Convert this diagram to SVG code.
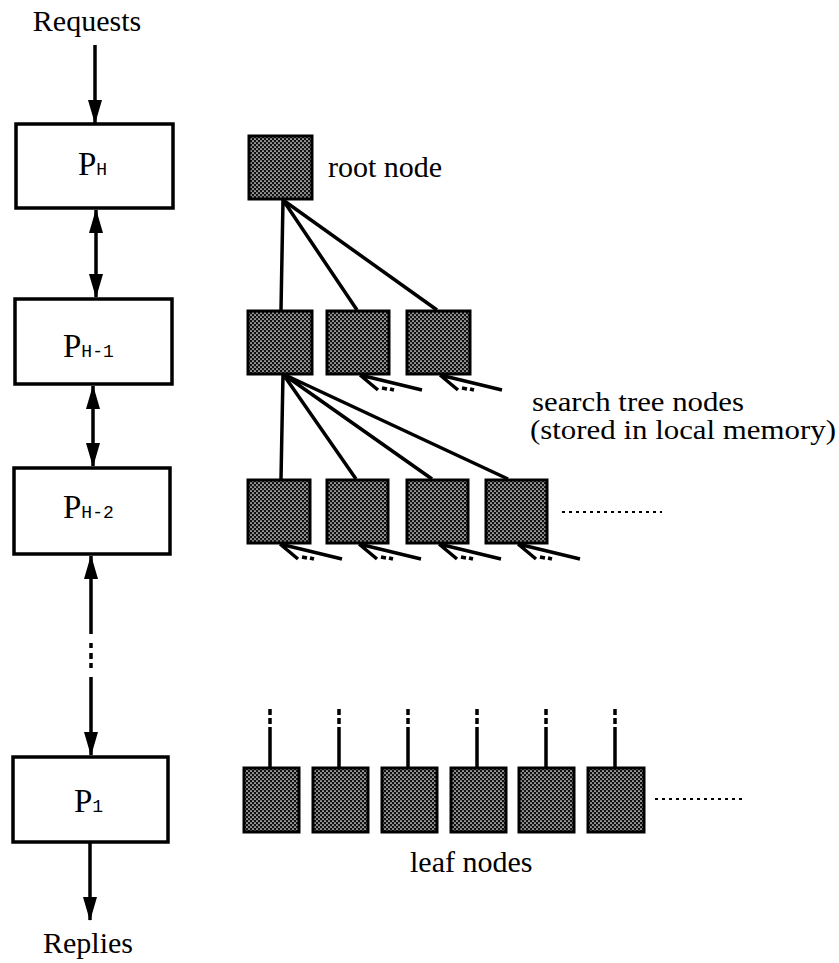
<svg xmlns="http://www.w3.org/2000/svg" xmlns:xlink="http://www.w3.org/1999/xlink" width="839" height="963" viewBox="0 0 839 963">
<style>
.lbl{font-family:"Liberation Serif","Times New Roman",serif;font-size:30px;fill:#000}
.lbl2{font-family:"Liberation Serif","Times New Roman",serif;font-size:27px;fill:#000}
.p{font-family:"Liberation Serif","Times New Roman",serif;font-size:33px;fill:#000}
.sub{font-family:"Liberation Mono","Courier New",monospace;font-size:18px;fill:#000}
.box{fill:#fff;stroke:#000;stroke-width:3.5}
.tn{fill:url(#dots);stroke:#000;stroke-width:3}
.edge{stroke:#000;stroke-width:3.5;fill:none}
.arr{stroke:#000;stroke-width:3.5;fill:none}
.dash{stroke:#000;stroke-width:2;fill:none;stroke-dasharray:3 4}
</style>
<defs>
<pattern id="dots" width="4" height="4" patternUnits="userSpaceOnUse">
<rect width="4" height="4" fill="#111"/>
<circle cx="1" cy="1" r="0.85" fill="#fff"/>
<circle cx="3" cy="3" r="0.85" fill="#fff"/>
</pattern>
<marker id="ah" markerUnits="userSpaceOnUse" markerWidth="24" markerHeight="16" viewBox="0 0 24 16" refX="23" refY="8" orient="auto-start-reverse">
<path d="M0,1 L24,8 L0,15 z" fill="#000"/>
</marker>
<g id="stub">
<path d="M0,0 L18,15 M0,0 L62,15" stroke="#000" stroke-width="3.5" fill="none"/>
<path d="M22,13 L27,14 M30,14 L34,15" stroke="#000" stroke-width="3.5" fill="none"/>
</g>
<g id="leafstub">
<path d="M0,0 L0,6 M0,9 L0,15 M0,18 L0,58" stroke="#000" stroke-width="3.5" fill="none"/>
</g>
</defs>
<rect width="839" height="963" fill="#fff"/>

<g id="connectors">
<line class="arr" x1="95" y1="45" x2="95" y2="123" marker-end="url(#ah)"/>
<line class="arr" x1="96" y1="210" x2="96" y2="297" marker-start="url(#ah)" marker-end="url(#ah)"/>
<line class="arr" x1="93" y1="386" x2="93" y2="466" marker-start="url(#ah)" marker-end="url(#ah)"/>
<path class="arr" d="M91,556 L91,634 M91,643 L91,648 M91,653 L91,659 M91,663 L91,668 M91,677 L91,755"/>
<line x1="91" y1="556" x2="91" y2="600" stroke="none" marker-start="url(#ah)"/>
<line x1="91" y1="700" x2="91" y2="755" stroke="none" marker-end="url(#ah)"/>
<line class="arr" x1="90" y1="843" x2="90" y2="920" marker-end="url(#ah)"/>
<path class="edge" d="M283,200 L281,310 M283,200 L357,310 M283,200 L437,310"/>
<path class="edge" d="M283,374 L281,479 M283,374 L356,479 M283,374 L432,479 M283,374 L508,479"/>
<use xlink:href="#stub" x="360" y="375"/>
<use xlink:href="#stub" x="440" y="375"/>
<use xlink:href="#stub" x="280" y="544"/>
<use xlink:href="#stub" x="359" y="544"/>
<use xlink:href="#stub" x="439" y="544"/>
<use xlink:href="#stub" x="518" y="544"/>
<use xlink:href="#leafstub" x="270" y="709"/>
<use xlink:href="#leafstub" x="339" y="709"/>
<use xlink:href="#leafstub" x="408" y="709"/>
<use xlink:href="#leafstub" x="477" y="709"/>
<use xlink:href="#leafstub" x="546" y="709"/>
<use xlink:href="#leafstub" x="615" y="709"/>
<line class="dash" x1="562" y1="512" x2="662" y2="512"/>
<line class="dash" x1="655" y1="799" x2="745" y2="799"/>
</g>

<text class="lbl" x="87" y="31" text-anchor="middle">Requests</text>
<text class="lbl" x="88" y="953" text-anchor="middle">Replies</text>

<g id="PH"><rect class="box" x="16" y="124" width="157" height="84"/>
<text x="78" y="175"><tspan class="p">P</tspan><tspan class="sub">H</tspan></text></g>
<g id="PH-1"><rect class="box" x="15" y="299" width="157" height="85"/>
<text x="63" y="357"><tspan class="p">P</tspan><tspan class="sub">H-1</tspan></text></g>
<g id="PH-2"><rect class="box" x="14" y="468" width="156" height="86"/>
<text x="63" y="518"><tspan class="p">P</tspan><tspan class="sub">H-2</tspan></text></g>
<g id="P1"><rect class="box" x="13" y="757" width="155" height="85"/>
<text x="74" y="812"><tspan class="p">P</tspan><tspan class="sub">1</tspan></text></g>

<g id="root"><rect class="tn" x="249" y="136" width="63" height="63"/>
<text class="lbl" x="328" y="177">root node</text></g>

<g id="l2a"><rect class="tn" x="248" y="311" width="64" height="63"/></g>
<g id="l2b"><rect class="tn" x="327" y="311" width="62" height="63"/></g>
<g id="l2c"><rect class="tn" x="407" y="311" width="63" height="63"/></g>

<g id="l3a"><rect class="tn" x="248" y="480" width="62" height="63"/></g>
<g id="l3b"><rect class="tn" x="327" y="480" width="61" height="63"/></g>
<g id="l3c"><rect class="tn" x="407" y="480" width="61" height="63"/></g>
<g id="l3d"><rect class="tn" x="486" y="480" width="61" height="63"/></g>

<g id="search-label">
<text class="lbl2" x="532" y="411" textLength="212" lengthAdjust="spacingAndGlyphs">search tree nodes</text>
<text class="lbl2" x="530" y="439" textLength="306" lengthAdjust="spacingAndGlyphs">(stored in local memory)</text>
</g>

<g id="leaf1"><rect class="tn" x="244" y="768" width="55" height="64"/></g>
<g id="leaf2"><rect class="tn" x="313" y="768" width="55" height="64"/></g>
<g id="leaf3"><rect class="tn" x="382" y="768" width="55" height="64"/></g>
<g id="leaf4"><rect class="tn" x="451" y="768" width="55" height="64"/></g>
<g id="leaf5"><rect class="tn" x="519" y="768" width="55" height="64"/></g>
<g id="leaf6"><rect class="tn" x="588" y="768" width="56" height="64"/></g>
<text class="lbl" x="410" y="872">leaf nodes</text>
</svg>
